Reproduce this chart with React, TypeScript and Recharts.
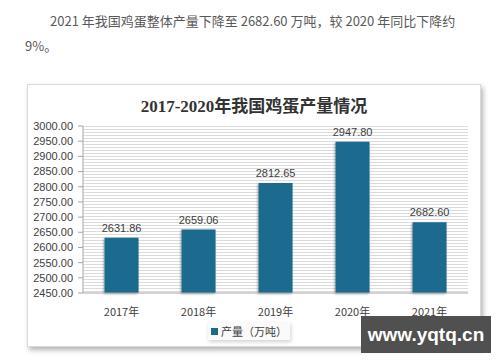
import React from 'react'
import { BarChart, Bar, XAxis, YAxis, CartesianGrid, LabelList } from 'recharts'

const years = ['2017年', '2018年', '2019年', '2020年', '2021年']
const output = [2631.86, 2659.06, 2812.65, 2947.8, 2682.6]
const yTicks = [2450, 2500, 2550, 2600, 2650, 2700, 2750, 2800, 2850, 2900, 2950, 3000]

const data = years.map((year, i) => ({ year, value: output[i] }))

const cjk = '"Noto Sans CJK SC", "Liberation Sans", sans-serif'

function LegendBox() {
    return (
        <div style={{
            position: 'absolute', left: 208, top: 322,
            width: 82, height: 18, background: '#fafafa',
            boxShadow: '1px 2px 4px rgba(0,0,0,0.18)', display: 'flex', alignItems: 'center',
            justifyContent: 'center', fontFamily: cjk, fontSize: 11, color: '#404040'
        }}>
            <span style={{ width: 7, height: 7, background: '#1b6a8e', marginRight: 3, display: 'inline-block' }} />
            产量（万吨）
        </div>
    )
}

export default function App() {
    return (
        <div style={{ position: 'absolute', left: 0, top: 0, width: 500, height: 362, background: '#fff', overflow: 'hidden' }}>
            <div style={{ position: 'absolute', left: 50, top: 11, fontFamily: cjk, fontSize: 13, color: '#595959', whiteSpace: 'nowrap' }}>
                2021 年我国鸡蛋整体产量下降至 2682.60 万吨，较 2020 年同比下降约
            </div>
            <div style={{ position: 'absolute', left: 25, top: 36, fontFamily: cjk, fontSize: 13, color: '#595959' }}>
                9%。
            </div>
            <div style={{
                position: 'absolute', left: 27, top: 84, width: 452, height: 261,
                border: '1px solid #d9d9d9', boxShadow: '2px 3px 5px rgba(0,0,0,0.3)', background: '#fff'
            }} />
            <div style={{
                position: 'absolute', left: 27, top: 92, width: 454, textAlign: 'center',
                fontFamily: '"Liberation Serif", "Noto Sans CJK SC", serif', fontWeight: 600, fontSize: 17, color: '#333'
            }}>
                2017-2020年我国鸡蛋产量情况
            </div>
            <div style={{ position: 'absolute', left: 0, top: 0 }}>
                <BarChart width={500} height={362} data={data} margin={{ top: 126, right: 32, bottom: 39, left: 0 }} barCategoryGap="28%">
                    <defs>
                        <pattern id="stripes" width="6" height="3" patternUnits="userSpaceOnUse">
                            <rect width="6" height="3" fill="#ffffff" />
                            <rect width="6" height="1" fill="#dcdcdc" />
                        </pattern>
                        <filter id="barShadow" x="-20%" y="-5%" width="140%" height="110%">
                            <feDropShadow dx="-1" dy="1" stdDeviation="1" floodColor="#000" floodOpacity="0.35" />
                        </filter>
                    </defs>
                    <CartesianGrid fill="url(#stripes)" stroke="none" vertical={false} horizontal={false} />
                    <XAxis dataKey="year" tickLine={false} axisLine={{ stroke: '#a6a6a6' }} height={30} tickMargin={9}
                        tick={{ fontSize: 11, fill: '#404040', fontFamily: cjk }} />
                    <YAxis width={83} domain={[2450, 3000]} ticks={yTicks} interval={0} tickFormatter={(v: number) => v.toFixed(2)}
                        axisLine={{ stroke: '#a6a6a6' }} tickLine={{ stroke: '#a6a6a6' }} tickSize={5} tickMargin={5}
                        tick={{ fontSize: 11, fill: '#404040', fontFamily: '"Liberation Sans", sans-serif' }} />
                    <Bar dataKey="value" fill="#1b6a8e" isAnimationActive={false} filter="url(#barShadow)">
                        <LabelList dataKey="value" position="top" offset={6} formatter={(v: number) => v.toFixed(2)}
                            style={{ fontSize: 11, fill: '#404040', fontFamily: '"Liberation Sans", sans-serif' }} />
                    </Bar>
                </BarChart>
            </div>
            <LegendBox />
            <div style={{
                position: 'absolute', left: 361, top: 316, width: 130, height: 37, background: '#505050',
                color: '#fff', fontFamily: '"Liberation Sans", sans-serif', fontWeight: 'bold', fontSize: 19,
                display: 'flex', alignItems: 'center', justifyContent: 'center'
            }}>
                www.yqtq.cn
            </div>
        </div>
    )
}
